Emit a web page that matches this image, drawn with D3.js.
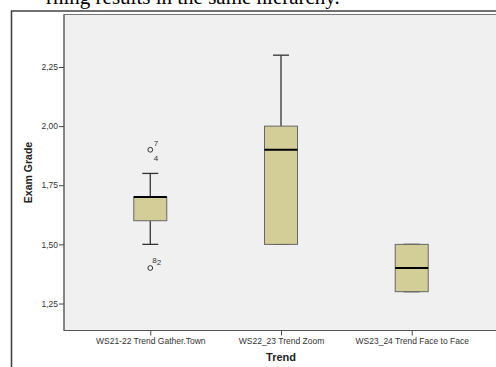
<!DOCTYPE html>
<html>
<head>
<meta charset="UTF-8">
<title>Exam Grade by Trend</title>
<style>
  body { margin: 0; background: #fff; }
  svg { display: block; }
  .tick text { font-family: "Liberation Sans", Arial, sans-serif; fill: #333; }
</style>
</head>
<body>
<script src="https://cdnjs.cloudflare.com/ajax/libs/d3/7.8.5/d3.min.js"></script>
<script>
// data
var categories = ["WS21-22 Trend Gather.Town", "WS22_23 Trend Zoom", "WS23_24 Trend Face to Face"];
var whiskerLow = [1.50, 1.50, 1.30];
var q1 = [1.60, 1.50, 1.30];
var median = [1.70, 1.90, 1.40];
var q3 = [1.70, 2.00, 1.50];
var whiskerHigh = [1.80, 2.30, 1.50];
var outlierGroup = [0, 0];
var outlierValue = [1.90, 1.40];
var outlierLabels = [["7", "4"], ["8", "2"]];
var yTicks = [1.25, 1.50, 1.75, 2.00, 2.25];

var W = 496, H = 367;
var plot = {left: 64, top: 14.5, right: 498, bottom: 330.5};

var svg = d3.select("body").append("svg")
    .attr("width", W)
    .attr("height", H);

// document text cut off at the top
svg.append("text")
    .attr("x", 46).attr("y", 4)
    .style("font-family", "'Liberation Serif', 'Times New Roman', serif")
    .style("font-size", "21px")
    .attr("fill", "#000")
    .text("rning results in the same hierarchy.");

// outer frame
svg.append("path")
    .attr("d", "M11.5," + H + "V11H" + W)
    .attr("fill", "none")
    .attr("stroke", "#444")
    .attr("stroke-width", 1.6);

// plot background
svg.append("rect")
    .attr("x", plot.left).attr("y", plot.top)
    .attr("width", plot.right - plot.left).attr("height", plot.bottom - plot.top)
    .attr("fill", "#f0f0f0")
    .attr("stroke", "#777")
    .attr("stroke-width", 1);

var y = d3.scaleLinear()
    .domain([1.25, 2.25])
    .range([303.5, 67]);

var x = d3.scalePoint()
    .domain(categories)
    .range([plot.left, plot.right])
    .padding(0.66);

var fmt = function(d) { return d3.format(".2f")(d).replace(".", ","); };

var yAxis = svg.append("g")
    .attr("transform", "translate(" + plot.left + ",0)")
    .call(d3.axisLeft(y).tickValues(yTicks).tickFormat(fmt).tickSize(5).tickSizeOuter(0));
yAxis.select(".domain").remove();
yAxis.selectAll(".tick line").attr("stroke", "#444");
yAxis.selectAll(".tick text").style("font-size", "8.5px").attr("x", -6);

var xAxis = svg.append("g")
    .attr("transform", "translate(0," + plot.bottom + ")")
    .call(d3.axisBottom(x).tickSize(5).tickSizeOuter(0));
xAxis.select(".domain").remove();
xAxis.selectAll(".tick line").attr("stroke", "#444");
xAxis.selectAll(".tick text").style("font-size", "8.5px").attr("y", 7);

// redraw axis lines on top
svg.append("line")
    .attr("x1", plot.left).attr("x2", plot.left)
    .attr("y1", plot.top).attr("y2", plot.bottom)
    .attr("stroke", "#555");
svg.append("line")
    .attr("x1", plot.left).attr("x2", plot.right)
    .attr("y1", plot.bottom).attr("y2", plot.bottom)
    .attr("stroke", "#555");

// axis titles
svg.append("text")
    .attr("transform", "translate(32," + ((plot.top + plot.bottom) / 2) + ") rotate(-90)")
    .attr("text-anchor", "middle")
    .style("font-family", "'Liberation Sans', Arial, sans-serif")
    .style("font-size", "10.5px")
    .style("font-weight", "bold")
    .attr("fill", "#222")
    .text("Exam Grade");

svg.append("text")
    .attr("x", x(categories[1])).attr("y", 361)
    .attr("text-anchor", "middle")
    .style("font-family", "'Liberation Sans', Arial, sans-serif")
    .style("font-size", "11px")
    .style("font-weight", "bold")
    .attr("fill", "#222")
    .text("Trend");

// boxes
var boxW = 33, capW = 16;
var g = svg.append("g");
categories.forEach(function(c, i) {
    var cx = x(c);
    // whiskers
    g.append("line")
        .attr("x1", cx).attr("x2", cx)
        .attr("y1", y(whiskerHigh[i])).attr("y2", y(q3[i]))
        .attr("stroke", "#333").attr("stroke-width", 1.3);
    g.append("line")
        .attr("x1", cx).attr("x2", cx)
        .attr("y1", y(q1[i])).attr("y2", y(whiskerLow[i]))
        .attr("stroke", "#333").attr("stroke-width", 1.3);
    g.append("line")
        .attr("x1", cx - capW / 2).attr("x2", cx + capW / 2)
        .attr("y1", y(whiskerHigh[i])).attr("y2", y(whiskerHigh[i]))
        .attr("stroke", "#333").attr("stroke-width", 1.3);
    g.append("line")
        .attr("x1", cx - capW / 2).attr("x2", cx + capW / 2)
        .attr("y1", y(whiskerLow[i])).attr("y2", y(whiskerLow[i]))
        .attr("stroke", "#333").attr("stroke-width", 1.3);
    // box
    g.append("rect")
        .attr("x", cx - boxW / 2).attr("y", y(q3[i]))
        .attr("width", boxW).attr("height", y(q1[i]) - y(q3[i]))
        .attr("fill", "#d3ce97")
        .attr("stroke", "#666").attr("stroke-width", 1);
    // median
    g.append("line")
        .attr("x1", cx - boxW / 2).attr("x2", cx + boxW / 2)
        .attr("y1", y(median[i])).attr("y2", y(median[i]))
        .attr("stroke", "#000").attr("stroke-width", 2);
});

// outliers with case labels
outlierValue.forEach(function(v, k) {
    var cx = x(categories[outlierGroup[k]]);
    var cy = y(v);
    g.append("circle")
        .attr("cx", cx).attr("cy", cy).attr("r", 2.4)
        .attr("fill", "none").attr("stroke", "#333").attr("stroke-width", 1);
    var labs = outlierLabels[k];
    var lab = g.append("g")
        .style("font-family", "'Liberation Sans', Arial, sans-serif")
        .style("font-size", "8px")
        .attr("fill", "#333");
    if (k === 0) {
        lab.append("text").attr("x", cx + 3.5).attr("y", cy - 4).text(labs[0]);
        lab.append("text").attr("x", cx + 3.5).attr("y", cy + 11).text(labs[1]);
    } else {
        lab.append("text").attr("x", cx + 2).attr("y", cy - 5).text(labs[0]);
        lab.append("text").attr("x", cx + 6.5).attr("y", cy - 3.5).text(labs[1]);
    }
});
</script>
</body>
</html>
